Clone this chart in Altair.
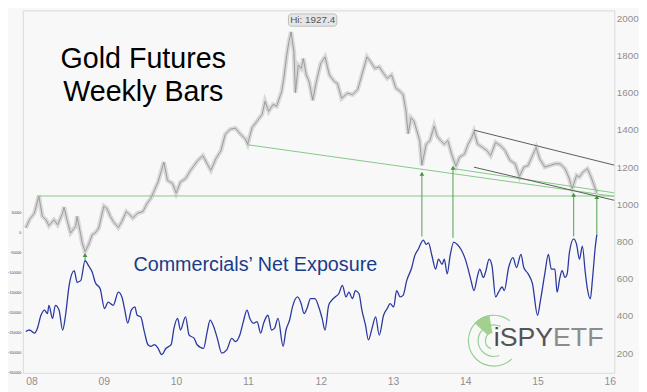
import altair as alt
import pandas as pd

# ---------------- data ----------------
years = [2008, 2009, 2010, 2011, 2012, 2013, 2014, 2015, 2016]
gold_ticks = [200, 400, 600, 800, 1000, 1200, 1400, 1600, 1800, 2000]
cot_ticks = [-350000, -300000, -250000, -200000, -150000, -100000, -50000, 0, 50000]

# Gold futures (weekly, sampled) : decimal year / price
gold_t = [2008.00, 2008.05, 2008.12, 2008.18, 2008.23, 2008.28, 2008.32, 2008.39, 2008.44, 2008.51,
          2008.53, 2008.57, 2008.62, 2008.69, 2008.71, 2008.76, 2008.78, 2008.82, 2008.87, 2008.92,
          2008.96, 2009.01, 2009.08, 2009.12, 2009.17, 2009.21, 2009.28, 2009.33, 2009.39, 2009.44,
          2009.48, 2009.55, 2009.62, 2009.68, 2009.73, 2009.78, 2009.83, 2009.87, 2009.91, 2009.96,
          2010.03, 2010.08, 2010.14, 2010.21, 2010.28, 2010.38, 2010.45, 2010.51, 2010.56, 2010.63,
          2010.70, 2010.76, 2010.83, 2010.90, 2010.97, 2011.04, 2011.07, 2011.13, 2011.20, 2011.27,
          2011.31, 2011.36, 2011.42, 2011.47, 2011.54, 2011.57, 2011.61, 2011.64, 2011.67, 2011.71,
          2011.73, 2011.77, 2011.81, 2011.84, 2011.88, 2011.92, 2011.97, 2012.02, 2012.08, 2012.14,
          2012.20, 2012.27, 2012.31, 2012.37, 2012.45, 2012.52, 2012.59, 2012.65, 2012.72, 2012.77,
          2012.83, 2012.89, 2012.95, 2013.00, 2013.06, 2013.12, 2013.18, 2013.22, 2013.26, 2013.29,
          2013.33, 2013.37, 2013.41, 2013.45, 2013.48, 2013.54, 2013.59, 2013.65, 2013.69, 2013.74,
          2013.79, 2013.84, 2013.89, 2013.95, 2014.00, 2014.07, 2014.12, 2014.17, 2014.20, 2014.25,
          2014.32, 2014.38, 2014.43, 2014.50, 2014.57, 2014.63, 2014.70, 2014.77, 2014.83, 2014.89,
          2014.95, 2015.01, 2015.06, 2015.11, 2015.18, 2015.25, 2015.32, 2015.39, 2015.46, 2015.51,
          2015.56, 2015.62, 2015.66, 2015.71, 2015.77, 2015.82, 2015.87, 2015.90]
gold_p = [873, 917, 953, 1045, 935, 917, 885, 917, 890, 953,
          985, 917, 846, 881, 935, 837, 793, 745, 784, 837,
          846, 873, 990, 979, 935, 908, 875, 908, 961, 944,
          926, 953, 961, 1006, 1032, 1076, 1120, 1173, 1227, 1129,
          1112, 1060, 1120, 1138, 1183, 1236, 1262, 1218, 1183, 1245,
          1289, 1377, 1404, 1410, 1377, 1351, 1324, 1412, 1448, 1484,
          1554, 1500, 1537, 1528, 1607, 1678, 1802, 1873, 1927, 1820,
          1600, 1749, 1731, 1784, 1696, 1660, 1560, 1660, 1758, 1793,
          1696, 1660, 1651, 1570, 1598, 1590, 1616, 1696, 1793, 1767,
          1731, 1740, 1704, 1678, 1696, 1625, 1607, 1590, 1501, 1380,
          1466, 1448, 1395, 1342, 1210, 1324, 1342, 1421, 1368, 1342,
          1324, 1342, 1271, 1205, 1253, 1271, 1324, 1359, 1392, 1324,
          1306, 1289, 1262, 1333, 1315, 1289, 1236, 1218, 1150, 1200,
          1209, 1262, 1306, 1245, 1200, 1209, 1218, 1218, 1192, 1147,
          1085, 1156, 1147, 1174, 1192, 1147, 1094, 1062]

# Commercials' net exposure : decimal year / contracts
cot_t = [2008.00, 2008.05, 2008.12, 2008.16, 2008.21, 2008.26, 2008.30, 2008.32, 2008.37, 2008.41,
         2008.46, 2008.51, 2008.55, 2008.60, 2008.67, 2008.71, 2008.76, 2008.82, 2008.87, 2008.92,
         2008.96, 2009.03, 2009.09, 2009.14, 2009.21, 2009.28, 2009.33, 2009.37, 2009.41, 2009.46,
         2009.51, 2009.54, 2009.59, 2009.64, 2009.69, 2009.73, 2009.78, 2009.83, 2009.88, 2009.94,
         2010.01, 2010.05, 2010.10, 2010.14, 2010.21, 2010.26, 2010.33, 2010.37, 2010.46, 2010.51,
         2010.55, 2010.60, 2010.65, 2010.71, 2010.78, 2010.85, 2010.90, 2010.96, 2011.01, 2011.06,
         2011.10, 2011.15, 2011.20, 2011.25, 2011.29, 2011.35, 2011.40, 2011.44, 2011.49, 2011.56,
         2011.60, 2011.65, 2011.69, 2011.76, 2011.81, 2011.85, 2011.89, 2011.94, 2012.00, 2012.06,
         2012.10, 2012.14, 2012.19, 2012.23, 2012.28, 2012.33, 2012.38, 2012.43, 2012.47, 2012.52,
         2012.56, 2012.61, 2012.65, 2012.70, 2012.74, 2012.79, 2012.84, 2012.89, 2012.95, 2013.00,
         2013.04, 2013.09, 2013.13, 2013.18, 2013.22, 2013.27, 2013.34, 2013.38, 2013.43, 2013.50,
         2013.54, 2013.57, 2013.62, 2013.67, 2013.71, 2013.76, 2013.79, 2013.83, 2013.87, 2013.92,
         2013.97, 2014.02, 2014.08, 2014.12, 2014.16, 2014.20, 2014.25, 2014.28, 2014.33, 2014.36,
         2014.41, 2014.45, 2014.50, 2014.54, 2014.59, 2014.62, 2014.68, 2014.74, 2014.79, 2014.85,
         2014.89, 2014.95, 2015.01, 2015.08, 2015.12, 2015.18, 2015.23, 2015.27, 2015.32, 2015.35,
         2015.39, 2015.42, 2015.46, 2015.49, 2015.52, 2015.58, 2015.62, 2015.66, 2015.70, 2015.74,
         2015.77, 2015.81, 2015.84, 2015.88, 2015.90]
cot_v = [-248000, -244000, -252000, -240000, -207000, -194000, -203000, -182000, -215000, -182000,
         -194000, -244000, -207000, -132000, -95000, -124000, -120000, -70000, -83000, -99000,
         -124000, -141000, -190000, -174000, -182000, -149000, -161000, -194000, -227000, -194000,
         -186000, -207000, -211000, -248000, -281000, -285000, -281000, -290000, -306000, -290000,
         -281000, -240000, -215000, -244000, -211000, -257000, -265000, -281000, -290000, -248000,
         -219000, -236000, -265000, -302000, -294000, -265000, -273000, -257000, -223000, -194000,
         -215000, -227000, -223000, -252000, -227000, -207000, -244000, -240000, -215000, -285000,
         -244000, -219000, -186000, -161000, -178000, -203000, -190000, -165000, -165000, -190000,
         -215000, -244000, -182000, -170000, -161000, -153000, -132000, -161000, -149000, -165000,
         -145000, -153000, -194000, -232000, -269000, -240000, -211000, -257000, -207000, -190000,
         -178000, -186000, -145000, -161000, -157000, -120000, -87000, -58000, -41000, -18000,
         -29000, -25000, -58000, -91000, -66000, -79000, -66000, -103000, -58000, -23000,
         -29000, -41000, -66000, -91000, -120000, -145000, -108000, -91000, -112000, -99000,
         -66000, -83000, -161000, -149000, -136000, -145000, -87000, -62000, -87000, -54000,
         -87000, -103000, -128000, -207000, -170000, -103000, -54000, -91000, -91000, -149000,
         -112000, -95000, -112000, -103000, -50000, -15000, -29000, -66000, -33000, -99000,
         -141000, -166000, -116000, -33000, -5000]

# trend lines (on the gold scale)
trend_t0 = [2008.16, 2011.06, 2013.92, 2014.20, 2014.20]
trend_p0 = [1045, 1321, 1192, 1200, 1399]
trend_t1 = [2016.14, 2016.14, 2016.14, 2016.14, 2016.14]
trend_p1 = [1045, 1043, 1062, 1022, 1211]
trend_kind = ["support", "support", "support", "channel", "channel"]

# green arrows (on the gold scale)
arrow_t = [2008.82, 2013.48, 2013.91, 2015.58, 2015.90]
arrow_base = [694, 827, 820, 828, 832]
arrow_top = [728, 1165, 1197, 1052, 1040]

# ---------------- layout constants ----------------
W, H = 599, 367
X_DOM = [2007.959, 2016.142]
GOLD_DOM = [94, 2043]
COT_DOM = [-351600, 559060]
FONT = "Liberation Sans"

gold_df = pd.DataFrame({"t": gold_t, "p": gold_p})
cot_df = pd.DataFrame({"t": cot_t, "v": cot_v})
trend_df = pd.DataFrame({"t0": trend_t0, "p0": trend_p0, "t1": trend_t1,
                         "p1": trend_p1, "kind": trend_kind})
arrow_df = pd.DataFrame({"t": arrow_t, "b": arrow_base, "p": arrow_top})
one = pd.DataFrame({"a": [0]})

xs = alt.Scale(domain=X_DOM, nice=False, zero=False)
gs = alt.Scale(domain=GOLD_DOM, nice=False, zero=False)
cs = alt.Scale(domain=COT_DOM, nice=False, zero=False)

x_axis = alt.Axis(values=years, labelExpr="substring(toString(datum.value), 2, 4)",
                  labelAlign="left", labelColor="#8f8f8f", labelFontSize=10.5,
                  labelFont=FONT, labelPadding=4, ticks=False, domain=False,
                  grid=False, title=None)

gold_band = alt.Chart(gold_df).mark_line(color="#d9d9d9", strokeWidth=4.5,
                                         strokeJoin="miter", clip=True).encode(
    x=alt.X("t:Q", scale=xs, axis=x_axis),
    y=alt.Y("p:Q", scale=gs, axis=alt.Axis(orient="right", values=gold_ticks,
                                           format="d",
                                           labelColor="#8f8f8f", labelFontSize=10,
                                           labelFont=FONT, labelPadding=2,
                                           ticks=False, domain=False, grid=False,
                                           title=None)),
)
gold_line = alt.Chart(gold_df).mark_line(color="#8c8c8c", strokeWidth=0.8).encode(
    x=alt.X("t:Q", scale=xs),
    y=alt.Y("p:Q", scale=gs, axis=None),
)

trend = alt.Chart(trend_df).mark_rule(strokeWidth=1).encode(
    x=alt.X("t0:Q", scale=xs),
    x2="t1:Q",
    y=alt.Y("p0:Q", scale=gs, axis=None),
    y2="p1:Q",
    color=alt.Color("kind:N", scale=alt.Scale(domain=["support", "channel"],
                                              range=["#86c786", "#5a5a5a"]),
                    legend=None),
)

arrow_stem = alt.Chart(arrow_df).mark_rule(color="#4e9e4e", strokeWidth=1).encode(
    x=alt.X("t:Q", scale=xs),
    y=alt.Y("b:Q", scale=gs, axis=None),
    y2="p:Q",
)
arrow_head = alt.Chart(arrow_df).mark_point(shape="triangle-up", filled=True,
                                            size=22, color="#3f953f", opacity=1).encode(
    x=alt.X("t:Q", scale=xs),
    y=alt.Y("p:Q", scale=gs, axis=None),
)

cot_line = alt.Chart(cot_df).mark_line(color="#2a39a0", strokeWidth=1.3,
                                       interpolate="monotone").encode(
    x=alt.X("t:Q", scale=xs),
    y=alt.Y("v:Q", scale=cs, axis=alt.Axis(orient="left", values=cot_ticks,
                                           format="d",
                                           labelColor="#3c3c8c", labelFontSize=3.6,
                                           labelFont=FONT, labelPadding=2,
                                           ticks=False, domain=False, grid=False,
                                           title=None)),
)

def label(text, x, y, size, color, align="left", baseline="alphabetic"):
    return alt.Chart(one).mark_text(text=text, align=align, baseline=baseline,
                                    font=FONT, fontSize=size, color=color).encode(
        x=alt.value(x), y=alt.value(y))

title1 = label("Gold Futures", 122, 58, 29, "#000000", align="center")
title2 = label("Weekly Bars", 122, 92, 29, "#000000", align="center")
cot_title = label("Commercials\u2019 Net Exposure", 112, 263.5, 20, "#1b3c89")

hi_box = alt.Chart(one).mark_rect(fill="#e6e6e6", stroke="#b3b3b3", strokeWidth=0.8,
                                  cornerRadius=3).encode(
    x=alt.value(269), x2=alt.value(318), y=alt.value(3.5), y2=alt.value(16))
hi_text = label("Hi: 1927.4", 293.5, 10, 10, "#555555", align="center", baseline="middle")

# logo
CX, CY = 477, 334.5
def arc(t0, t1, r_out, r_in, color, opacity=1.0):
    return alt.Chart(one).mark_arc(x=CX, y=CY, theta=t0, theta2=t1, radius=r_out,
                                   radius2=r_in, opacity=opacity).encode(
        color=alt.value(color))

logo = [
    arc(5.45, 6.11, 26.5, 9, "#6db548", 0.6),
    arc(2.37, 6.96, 26.4, 25.2, "#96d096"),
    arc(2.79, 6.72, 16.6, 15.4, "#96d096"),
    arc(3.49, 6.11, 9.1, 7.9, "#96d096"),
    label("i", 477, 340, 27, "#4a4a4a"),
    label("SPY", 483, 340, 27, "#555555"),
    label("ETF", 537, 340, 27, "#8c8c8c"),
]

chart = alt.layer(
    gold_band, gold_line, trend, arrow_stem, arrow_head, cot_line,
    title1, title2, cot_title, hi_box, hi_text, *logo,
).resolve_scale(y="independent").properties(
    width=W, height=H,
    autosize=alt.AutoSizeParams(type="none"),
    padding={"left": 15, "top": 0, "right": 25, "bottom": 17},
).configure(background="#f8f8f8").configure_view(fill="#ffffff", stroke="#d8d8d8")

chart.save("out.html", embed_options={"renderer": "svg", "actions": False})
